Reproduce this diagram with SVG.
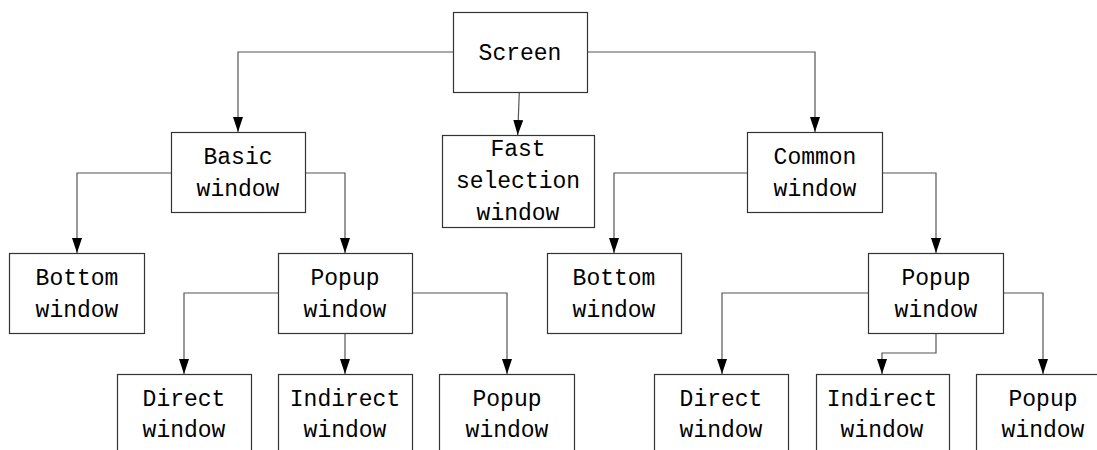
<svg xmlns="http://www.w3.org/2000/svg" width="1097" height="450" viewBox="0 0 1097 450">
<defs>
<style>
.box{fill:#fff;stroke:#333;stroke-width:1.2}
.lbl{font-family:"Liberation Mono","DejaVu Sans Mono",monospace;font-size:23px;fill:#000;text-anchor:middle}
.con{fill:none;stroke:#555;stroke-width:1.2}
</style>
<marker id="arr" viewBox="0 0 15 10" refX="15" refY="5" markerWidth="15" markerHeight="10" markerUnits="userSpaceOnUse" orient="auto">
<path d="M0,0 L15,5 L0,10 z" fill="#000"/>
</marker>
</defs>
<rect width="1097" height="450" fill="#fff"/>
<g id="connectors">
<path class="con" marker-end="url(#arr)" d="M453,52 H238 V132"/>
<path class="con" marker-end="url(#arr)" d="M519.3,92 L517.7,135"/>
<path class="con" marker-end="url(#arr)" d="M587,52 H815 V132"/>
<path class="con" marker-end="url(#arr)" d="M171,173 H77 V253"/>
<path class="con" marker-end="url(#arr)" d="M305,173 H345 V253"/>
<path class="con" marker-end="url(#arr)" d="M747,173 H614 V253"/>
<path class="con" marker-end="url(#arr)" d="M882,173 H936 V253"/>
<path class="con" marker-end="url(#arr)" d="M278,293 H184 V374"/>
<path class="con" marker-end="url(#arr)" d="M345,333 V374"/>
<path class="con" marker-end="url(#arr)" d="M412,293 H507 V374"/>
<path class="con" marker-end="url(#arr)" d="M868,293 H722 V374"/>
<path class="con" marker-end="url(#arr)" d="M936,333 V353 H882 V374"/>
<path class="con" marker-end="url(#arr)" d="M1003,293 H1043 V374"/>
</g>
<g id="screen"><rect class="box" x="453.5" y="12.5" width="134" height="80"/><text class="lbl" x="520" y="60">Screen</text></g>
<g id="basic"><rect class="box" x="171.5" y="132.5" width="134" height="80"/><text class="lbl" x="238" y="164">Basic</text><text class="lbl" x="238" y="196">window</text></g>
<g id="fast"><rect class="box" x="442.5" y="135.5" width="152" height="92"/><text class="lbl" x="518" y="156">Fast</text><text class="lbl" x="518" y="188">selection</text><text class="lbl" x="518" y="220">window</text></g>
<g id="common"><rect class="box" x="747.5" y="132.5" width="135" height="80"/><text class="lbl" x="815" y="164">Common</text><text class="lbl" x="815" y="196">window</text></g>
<g id="bottom-l"><rect class="box" x="9.5" y="253.5" width="135" height="80"/><text class="lbl" x="77" y="285">Bottom</text><text class="lbl" x="77" y="317">window</text></g>
<g id="popup-l"><rect class="box" x="278.5" y="253.5" width="134" height="80"/><text class="lbl" x="345" y="285">Popup</text><text class="lbl" x="345" y="317">window</text></g>
<g id="bottom-r"><rect class="box" x="547.5" y="253.5" width="134" height="80"/><text class="lbl" x="614" y="285">Bottom</text><text class="lbl" x="614" y="317">window</text></g>
<g id="popup-r"><rect class="box" x="868.5" y="253.5" width="135" height="80"/><text class="lbl" x="936" y="285">Popup</text><text class="lbl" x="936" y="317">window</text></g>
<g id="direct-l"><rect class="box" x="117.5" y="374.5" width="134" height="90"/><text class="lbl" x="184" y="406">Direct</text><text class="lbl" x="184" y="437">window</text></g>
<g id="indirect-l"><rect class="box" x="278.5" y="374.5" width="134" height="90"/><text class="lbl" x="345" y="406">Indirect</text><text class="lbl" x="345" y="437">window</text></g>
<g id="popup-lb"><rect class="box" x="439.5" y="374.5" width="135" height="90"/><text class="lbl" x="507" y="406">Popup</text><text class="lbl" x="507" y="437">window</text></g>
<g id="direct-r"><rect class="box" x="654.5" y="374.5" width="134" height="90"/><text class="lbl" x="721" y="406">Direct</text><text class="lbl" x="721" y="437">window</text></g>
<g id="indirect-r"><rect class="box" x="816.5" y="374.5" width="133" height="90"/><text class="lbl" x="882" y="406">Indirect</text><text class="lbl" x="882" y="437">window</text></g>
<g id="popup-rb"><rect class="box" x="976.5" y="374.5" width="134" height="90"/><text class="lbl" x="1043" y="406">Popup</text><text class="lbl" x="1043" y="437">window</text></g>
</svg>
